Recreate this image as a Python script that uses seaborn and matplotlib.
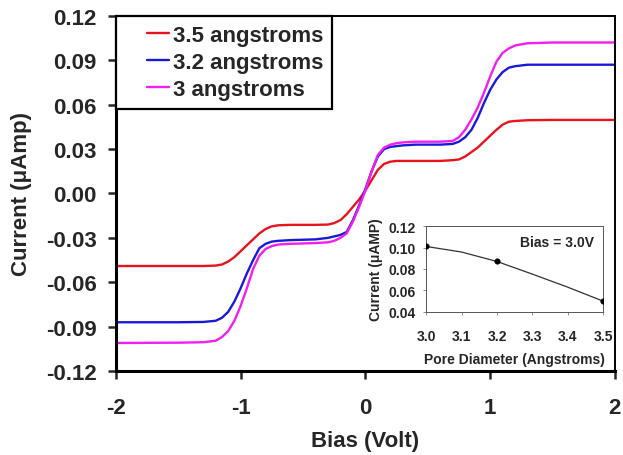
import numpy as np
import pandas as pd
import matplotlib
matplotlib.use('Agg')
import matplotlib.pyplot as plt
import seaborn as sns

# I-V curves
bias = [-2.0, -1.5, -1.3, -1.2, -1.15, -1.1, -1.05, -1.0, -0.95, -0.9, -0.85, -0.8, -0.75, -0.7,
        -0.6, -0.4, -0.3, -0.25, -0.2, -0.15, -0.1, -0.05, 0.0, 0.05, 0.1, 0.15, 0.2, 0.25, 0.3,
        0.4, 0.6, 0.7, 0.75, 0.8, 0.85, 0.9, 0.95, 1.0, 1.05, 1.1, 1.15, 1.2, 1.3, 1.5, 2.0]

cur_35 = [-0.049, -0.049, -0.049, -0.0487, -0.048, -0.046, -0.043, -0.039, -0.035, -0.031, -0.027,
          -0.024, -0.0222, -0.0215, -0.0212, -0.0212, -0.021, -0.020, -0.018, -0.014, -0.009, -0.004,
          0.002, 0.009, 0.016, 0.020, 0.0215, 0.022, 0.022, 0.022, 0.022, 0.0225, 0.023, 0.025,
          0.028, 0.031, 0.035, 0.039, 0.043, 0.0465, 0.0485, 0.049, 0.0495, 0.0497, 0.0497]

cur_32 = [-0.087, -0.087, -0.0868, -0.086, -0.084, -0.080, -0.073, -0.064, -0.054, -0.045, -0.037,
          -0.034, -0.0325, -0.032, -0.0315, -0.031, -0.030, -0.029, -0.028, -0.026, -0.018, -0.008,
          0.003, 0.015, 0.025, 0.030, 0.0315, 0.032, 0.0325, 0.033, 0.033, 0.0335, 0.035, 0.038,
          0.043, 0.051, 0.061, 0.070, 0.077, 0.082, 0.085, 0.086, 0.087, 0.087, 0.087]

cur_30 = [-0.101, -0.1008, -0.1005, -0.0995, -0.097, -0.093, -0.086, -0.076, -0.064, -0.051, -0.042,
          -0.0375, -0.0355, -0.0345, -0.034, -0.0335, -0.033, -0.032, -0.030, -0.027, -0.019, -0.009,
          0.002, 0.015, 0.026, 0.031, 0.033, 0.034, 0.0345, 0.035, 0.035, 0.0355, 0.038, 0.043,
          0.050, 0.058, 0.068, 0.079, 0.089, 0.095, 0.098, 0.100, 0.1015, 0.102, 0.102]

labels = ['3.5 angstroms', '3.2 angstroms', '3 angstroms']
colors = ['#e8141c', '#1a1ad6', '#f21ef2']

# inset: current at 3.0 V vs pore diameter
pore = [3.0, 3.2, 3.5]
pore_cur = [0.101, 0.087, 0.050]
pore_line_x = [3.0, 3.1, 3.2, 3.3, 3.4, 3.5]
pore_line_y = [0.101, 0.0958, 0.087, 0.0752, 0.063, 0.050]

sns.set_style('ticks')
plt.rcParams['font.family'] = ['Liberation Sans', 'DejaVu Sans']
plt.rcParams['font.weight'] = 'bold'
plt.rcParams['axes.unicode_minus'] = False

df = pd.concat([
    pd.DataFrame({'Bias': bias, 'Current': cur_35, 'Pore': labels[0]}),
    pd.DataFrame({'Bias': bias, 'Current': cur_32, 'Pore': labels[1]}),
    pd.DataFrame({'Bias': bias, 'Current': cur_30, 'Pore': labels[2]}),
])

fig = plt.figure(figsize=(6.23, 4.56), dpi=100)
ax = fig.add_axes([0.186, 0.184, 0.801, 0.779])
sns.lineplot(data=df, x='Bias', y='Current', hue='Pore', hue_order=labels,
             palette=colors, linewidth=1.7, estimator=None, ax=ax)

ax.set_xlim(-2, 2)
ax.set_ylim(-0.12, 0.12)
ax.set_xticks([-2, -1, 0, 1, 2])
ax.set_yticks(np.arange(-0.12, 0.121, 0.03))
ax.set_yticklabels(['%.2f' % v for v in np.arange(-0.12, 0.121, 0.03)])
ax.tick_params(labelsize=16, width=1.8, length=6)
for lab in ax.get_xticklabels() + ax.get_yticklabels():
    lab.set_fontweight('bold')
ax.tick_params(axis='x', pad=13)
ax.tick_params(axis='y', pad=8)
ax.set_xlabel('Bias (Volt)', fontsize=16, fontweight='bold', labelpad=8)
ax.set_ylabel('Current (\u03bcAmp)', fontsize=16, fontweight='bold', labelpad=10)
for s in ['left', 'bottom']:
    ax.spines[s].set_linewidth(2.2)
for s in ['top', 'right']:
    ax.spines[s].set_linewidth(1.4)
for s in ax.spines.values():
    s.set_color('black')

leg = ax.legend(loc='upper left', borderaxespad=0, fancybox=False, edgecolor='black',
                prop={'size': 16, 'weight': 'bold'}, handlelength=2.0, handletextpad=0.17,
                labelspacing=0.28, borderpad=0.4)
leg.get_frame().set_linewidth(1.6)
leg.get_frame().set_alpha(1)
# short handle sitting right next to the text (blank lead-in)
for ln in leg.get_lines():
    xd = list(ln.get_xdata())
    ln.set_xdata([xd[0] + 0.5 * (xd[-1] - xd[0]), xd[-1]])
    ln.set_ydata(list(ln.get_ydata())[:2])

# inset
ins = fig.add_axes([0.684, 0.314, 0.284, 0.188])
sns.lineplot(x=pore_line_x, y=pore_line_y, color='#333333', linewidth=0.9, ax=ins)
sns.scatterplot(x=pore, y=pore_cur, color='black', s=16, edgecolor='black', ax=ins, zorder=3)
ins.set_xlim(3.0, 3.5)
ins.set_ylim(0.04, 0.12)
ins.set_xticks([3.0, 3.1, 3.2, 3.3, 3.4, 3.5])
ins.set_xticklabels(['3.0', '3.1', '3.2', '3.3', '3.4', '3.5'])
ins.set_yticks([0.04, 0.06, 0.08, 0.10, 0.12])
ins.set_yticklabels(['0.04', '0.06', '0.08', '0.10', '0.12'])
ins.tick_params(labelsize=10, width=0.6, length=2.5, color='#777777')
for lab in ins.get_xticklabels() + ins.get_yticklabels():
    lab.set_fontweight('bold')
ins.tick_params(axis='x', pad=10)
ins.tick_params(axis='y', pad=5)
ins.set_xlabel('Pore Diameter (Angstroms)', fontsize=10, fontweight='bold', labelpad=6)
ins.set_ylabel('Current (\u03bcAMP)', fontsize=10, fontweight='bold', labelpad=4)
for s in ins.spines.values():
    s.set_linewidth(0.7)
    s.set_color('#555555')
ins.text(0.95, 0.81, 'Bias = 3.0V', transform=ins.transAxes, ha='right', va='center',
         fontsize=10, fontweight='bold')

fig.savefig('out.png', dpi=100)
